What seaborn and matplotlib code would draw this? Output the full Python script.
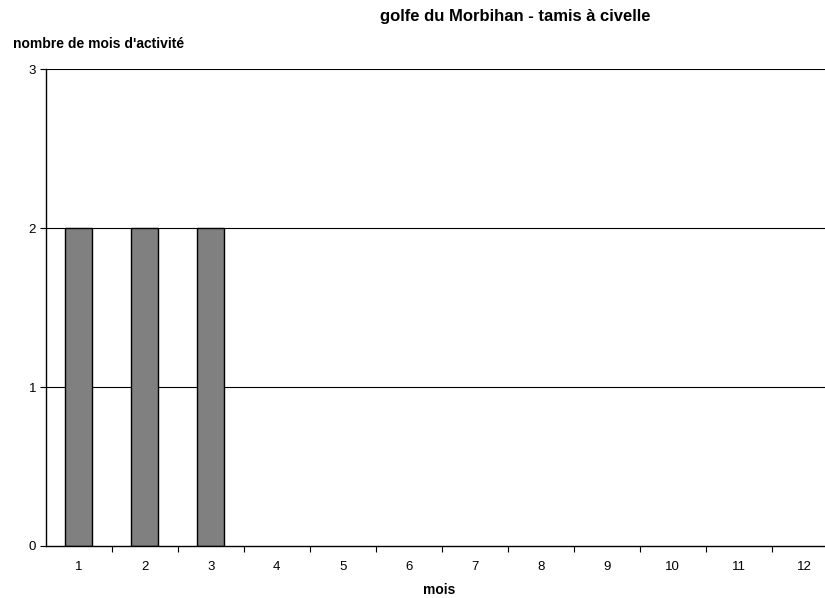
import matplotlib
matplotlib.use("Agg")
import matplotlib.pyplot as plt
import numpy as np
import pandas as pd
import seaborn as sns

months = ["1", "2", "3", "4", "5", "6", "7", "8", "9", "10", "11", "12"]
activity = [2, 2, 2, 0, 0, 0, 0, 0, 0, 0, 0, 0]
y_ticks = [0, 1, 2, 3]

sns.set_theme(style="white")
plt.rcParams["font.family"] = ["Liberation Sans", "DejaVu Sans"]
plt.rcParams["text.color"] = "black"
plt.rcParams["xtick.color"] = "black"
plt.rcParams["ytick.color"] = "black"

df = pd.DataFrame({"mois": months, "nombre": activity})

fig = plt.figure(figsize=(8.25, 5.98), dpi=100)
ax = fig.add_axes([45.7 / 825, 52 / 598, 792 / 825, 476.7 / 598])

ax.set_axisbelow(True)
for v in y_ticks[1:]:
    ax.axhline(v, color="black", lw=0.8, zorder=0)

sns.barplot(data=df, x="mois", y="nombre", order=months, color="#808080",
            edgecolor="black", linewidth=1.0, width=0.4, saturation=1,
            ax=ax, zorder=2)
# empty months carry no visible bar
for patch in ax.patches:
    if patch.get_height() == 0:
        patch.set_visible(False)

ax.set_xlim(-0.5, 11.5)
ax.set_ylim(0, 3)
ax.set_yticks(y_ticks)
ax.set_yticklabels([str(t) for t in y_ticks], fontsize=9.5)

# category labels at bar centres, tick marks on category boundaries
ax.set_xticks(np.arange(0.5, 11.5, 1.0))
ax.set_xticklabels([])
ax.set_xticks(np.arange(len(months)), minor=True)
ax.set_xticklabels(months, minor=True, fontsize=9.5)
ax.tick_params(axis="x", which="major", direction="out", length=4, width=0.8,
               color="black", bottom=True)
ax.tick_params(axis="x", which="minor", length=0, pad=11)
ax.tick_params(axis="y", direction="out", length=4, width=0.8, color="black",
               left=True, pad=3)

for side in ["top", "right"]:
    ax.spines[side].set_visible(False)
for side in ["left", "bottom"]:
    ax.spines[side].set_color("black")
    ax.spines[side].set_linewidth(1.0)

ax.set_xlabel("")
ax.set_ylabel("")
fig.text(439 / 825, 1 - 590 / 598, "mois", ha="center", va="center",
         fontsize=10, fontweight="bold")
fig.text(13 / 825, 1 - 44 / 598, "nombre de mois d'activité", ha="left",
         va="center", fontsize=10, fontweight="bold")
fig.text(515 / 825, 1 - 17 / 598, "golfe du Morbihan - tamis à civelle",
         ha="center", va="center", fontsize=12, fontweight="bold")

fig.savefig("out.png", dpi=100)
